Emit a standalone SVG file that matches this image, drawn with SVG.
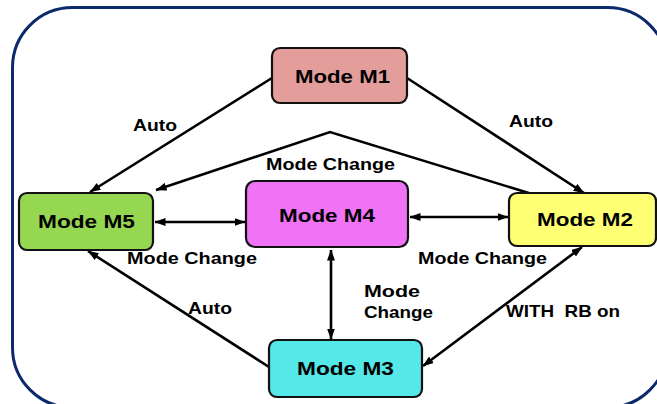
<svg xmlns="http://www.w3.org/2000/svg" width="657" height="404" viewBox="0 0 657 404">
<style>
.node{stroke:#111;stroke-width:2.2}
.nt{font-family:"Liberation Sans",Arial,sans-serif;font-weight:bold;font-size:18px;fill:#000}
.lb{font-family:"Liberation Sans",Arial,sans-serif;font-weight:bold;font-size:17px;fill:#000}
.c{fill:none;stroke:#000;stroke-width:2.6}
</style>
<defs>
<marker id="ah" viewBox="0 0 11 8" refX="10.5" refY="4" markerWidth="11" markerHeight="8" markerUnits="userSpaceOnUse" orient="auto-start-reverse">
<path d="M0,0 L11,4 L0,8 z" fill="#000"/>
</marker>
</defs>
<rect x="0" y="0" width="657" height="404" fill="#fff"/>
<rect id="frame" x="12.5" y="7.5" width="655" height="400" rx="60" ry="60" fill="none" stroke="#0b2a6b" stroke-width="3"/>
<g id="connectors">
<line class="c" x1="272" y1="78" x2="90" y2="192" marker-end="url(#ah)"/>
<line class="c" x1="407" y1="78" x2="584" y2="193" marker-end="url(#ah)"/>
<polyline class="c" points="532,194 330,132 156,190" marker-end="url(#ah)"/>
<line class="c" x1="155" y1="222" x2="245" y2="222" marker-start="url(#ah)" marker-end="url(#ah)"/>
<line class="c" x1="410" y1="217" x2="508" y2="217" marker-start="url(#ah)" marker-end="url(#ah)"/>
<line class="c" x1="331" y1="250" x2="331" y2="339" marker-start="url(#ah)" marker-end="url(#ah)"/>
<line class="c" x1="269" y1="367" x2="88" y2="251" marker-end="url(#ah)"/>
<line class="c" x1="582" y1="247" x2="423" y2="366" marker-start="url(#ah)" marker-end="url(#ah)"/>
<text class="lb" x="133" y="131" textLength="44" lengthAdjust="spacingAndGlyphs">Auto</text>
<text class="lb" x="509" y="127" textLength="44" lengthAdjust="spacingAndGlyphs">Auto</text>
<text class="lb" x="266" y="170" textLength="129" lengthAdjust="spacingAndGlyphs">Mode Change</text>
<text class="lb" x="127" y="264" textLength="130" lengthAdjust="spacingAndGlyphs">Mode Change</text>
<text class="lb" x="418" y="264" textLength="129" lengthAdjust="spacingAndGlyphs">Mode Change</text>
<text class="lb" x="188" y="314" textLength="44" lengthAdjust="spacingAndGlyphs">Auto</text>
<text class="lb" x="364" y="297" textLength="56" lengthAdjust="spacingAndGlyphs">Mode</text>
<text class="lb" x="364" y="318" textLength="69" lengthAdjust="spacingAndGlyphs">Change</text>
<text class="lb" x="506" y="317" textLength="114" lengthAdjust="spacingAndGlyphs" xml:space="preserve">WITH  RB on</text>
</g>
<g id="m1">
<rect class="node" x="272" y="48" width="135" height="55" rx="8" fill="#e39d9b"/>
<text class="nt" x="295" y="83" textLength="95" lengthAdjust="spacingAndGlyphs">Mode M1</text>
</g>
<g id="m5">
<rect class="node" x="19" y="193" width="134" height="57" rx="8" fill="#96d752"/>
<text class="nt" x="38" y="228" textLength="97" lengthAdjust="spacingAndGlyphs">Mode M5</text>
</g>
<g id="m4">
<rect class="node" x="246" y="181" width="162" height="66" rx="9" fill="#f073f6"/>
<text class="nt" x="279" y="222" textLength="96" lengthAdjust="spacingAndGlyphs">Mode M4</text>
</g>
<g id="m2">
<rect class="node" x="509" y="193" width="147" height="53" rx="8" fill="#ffff73"/>
<text class="nt" x="537" y="226" textLength="96" lengthAdjust="spacingAndGlyphs">Mode M2</text>
</g>
<g id="m3">
<rect class="node" x="269" y="340" width="153" height="57" rx="8" fill="#55e8e8"/>
<text class="nt" x="297" y="375" textLength="97" lengthAdjust="spacingAndGlyphs">Mode M3</text>
</g>
</svg>
